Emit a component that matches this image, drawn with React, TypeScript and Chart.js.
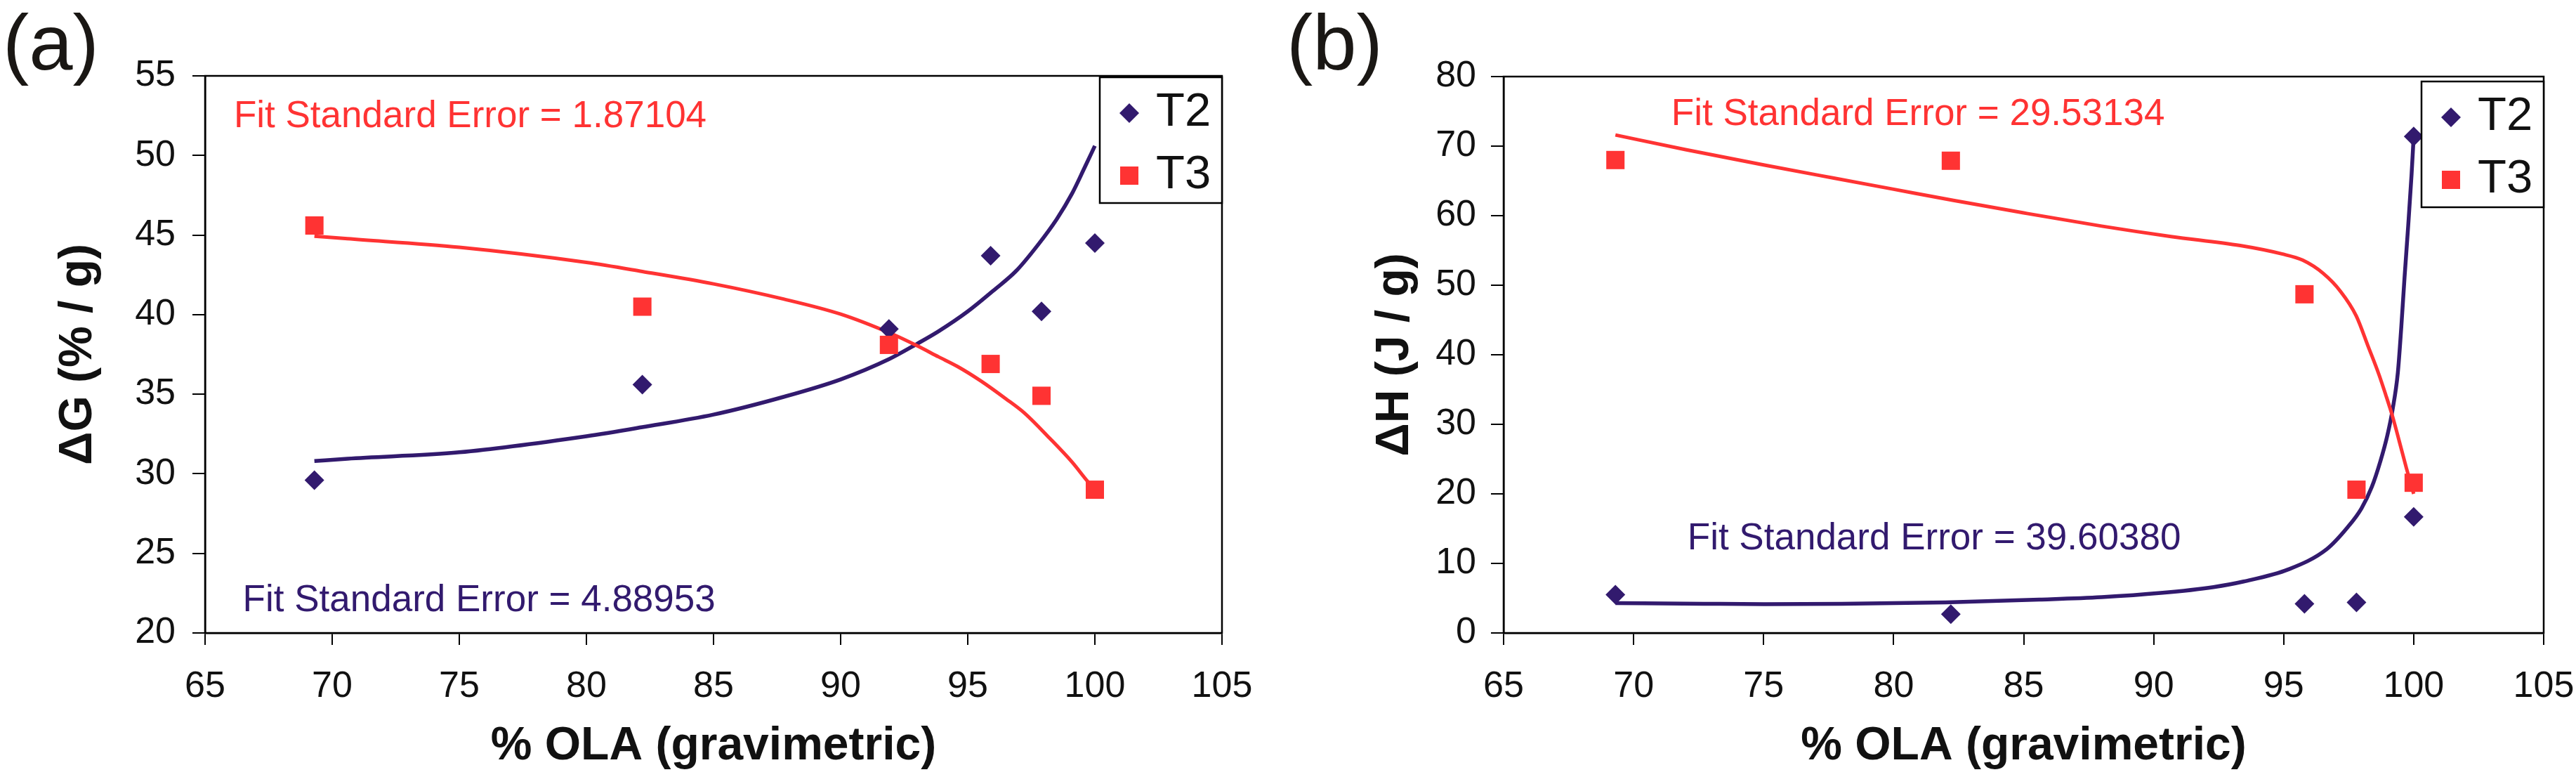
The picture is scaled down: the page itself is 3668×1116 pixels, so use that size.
import React, { useEffect, useRef } from 'react';
import { Chart, registerables } from 'chart.js';

Chart.register(...registerables);

const FONT = '"Liberation Sans", Arial, Helvetica, sans-serif';
const NAVY = '#321A6E';
const RED = '#FF3333';
const INK = '#111111';

// ---------- Panel (a): ΔG ----------
const A_T2_X = [69.3, 82.2, 91.9, 95.9, 97.9, 100.0];
const A_T2_Y = [29.6, 35.6, 39.1, 43.7, 40.2, 44.5];
const A_T3_X = [69.3, 82.2, 91.9, 95.9, 97.9, 100.0];
const A_T3_Y = [45.6, 40.5, 38.1, 36.9, 34.9, 29.0];
const A_FIT2_X = [69.3, 70.6, 75, 80, 82.2, 85, 87.75, 90, 91.9, 93, 93.85, 95, 96, 96.9, 97.75, 98.5, 99.1, 99.6, 100];
const A_FIT2_Y = [30.8, 30.95, 31.35, 32.36, 32.93, 33.72, 34.83, 35.93, 37.2, 38.16, 38.95, 40.2, 41.5, 42.74, 44.36, 46.0, 47.6, 49.25, 50.6];
const A_FIT3_X = [69.3, 70.6, 75, 80, 82.2, 85, 87.75, 90, 92, 93, 93.85, 94.6, 95.5, 96.5, 97.25, 98.2, 99.1, 99.7, 100];
const A_FIT3_Y = [44.93, 44.77, 44.23, 43.28, 42.71, 41.93, 40.98, 40.03, 38.8, 38.05, 37.35, 36.74, 35.85, 34.71, 33.79, 32.27, 30.74, 29.55, 29.0];
const A_Y_TITLE = 'ΔG (% / g)';
const A_FIT3_LABEL = 'Fit Standard Error = 1.87104';
const A_FIT2_LABEL = 'Fit Standard Error = 4.88953';

// ---------- Panel (b): ΔH ----------
const B_T2_X = [69.3, 82.2, 95.8, 97.8, 100.0, 100.0];
const B_T2_Y = [5.5, 2.7, 4.2, 4.4, 16.7, 71.4];
const B_T3_X = [69.3, 82.2, 95.8, 97.8, 100.0];
const B_T3_Y = [68.0, 67.9, 48.7, 20.6, 21.6];
const B_FIT2_X = [69.3, 72.7, 75, 78, 82, 85.6, 88, 90.27, 92.3, 93.46, 95.19, 96.66, 97.46, 97.99, 98.39, 98.72, 98.99, 99.19, 99.39, 99.52, 99.65, 99.79, 99.92, 100];
const B_FIT2_Y = [4.3, 4.2, 4.15, 4.2, 4.4, 4.8, 5.15, 5.75, 6.6, 7.4, 9.15, 12.06, 15.2, 17.9, 21.0, 24.7, 28.45, 32.15, 37.4, 43.8, 51.2, 58.6, 66.0, 71.4];
const B_FIT3_X = [69.3, 72, 75, 77.7, 80, 82.3, 85, 88, 90.67, 93.33, 94.93, 95.73, 96.52, 97.19, 97.79, 98.26, 98.66, 98.92, 99.19, 99.45, 99.72, 100];
const B_FIT3_Y = [71.6, 69.5, 67.3, 65.4, 63.8, 62.2, 60.4, 58.5, 57.0, 55.7, 54.5, 53.6, 51.7, 49.1, 45.6, 41.1, 37.2, 34.3, 31.1, 27.5, 23.7, 20.0];
const B_Y_TITLE = 'ΔH (J / g)';
const B_FIT3_LABEL = 'Fit Standard Error = 29.53134';
const B_FIT2_LABEL = 'Fit Standard Error = 39.60380';

// shared axis
const X_MIN = 65;
const X_MAX = 105;
const X_STEP = 5;
const X_TITLE = '% OLA (gravimetric)';
const SERIES = ['T2', 'T3'];

const H = 1116;

const zip = (xs: number[], ys: number[]) => xs.map((x, i) => ({ x, y: ys[i] }));

type Panel = {
  left: number; width: number;
  chartLeft: number; chartRight: number; chartTop: number; chartBottom: number;
  yMin: number; yMax: number; yStep: number; yTitle: string;
  yTitlePad: number; yTickPad: number;
  t2: { x: number; y: number }[]; t3: { x: number; y: number }[];
  fit2: { x: number; y: number }[]; fit3: { x: number; y: number }[];
  notes: { text: string; x: number; y: number; color: string }[];
  letter: string; letterX: number; legendDy: number;
};

const PANELS: Panel[] = [
  {
    left: 0, width: 1820,
    chartLeft: 292, chartRight: 1740, chartTop: 108, chartBottom: 901,
    yMin: 20, yMax: 55, yStep: 5, yTitle: A_Y_TITLE,
    yTitlePad: 72, yTickPad: 24,
    t2: zip(A_T2_X, A_T2_Y), t3: zip(A_T3_X, A_T3_Y),
    fit2: zip(A_FIT2_X, A_FIT2_Y), fit3: zip(A_FIT3_X, A_FIT3_Y),
    notes: [
      { text: A_FIT3_LABEL, x: 66.13, y: 51.8, color: RED },
      { text: A_FIT2_LABEL, x: 66.48, y: 21.37, color: NAVY },
    ],
    letter: '(a)', letterX: 4, legendDy: 2,
  },
  {
    left: 1820, width: 1848,
    chartLeft: 321, chartRight: 1802, chartTop: 109, chartBottom: 901,
    yMin: 0, yMax: 80, yStep: 10, yTitle: B_Y_TITLE,
    yTitlePad: 127, yTickPad: 21,
    t2: zip(B_T2_X, B_T2_Y), t3: zip(B_T3_X, B_T3_Y),
    fit2: zip(B_FIT2_X, B_FIT2_Y), fit3: zip(B_FIT3_X, B_FIT3_Y),
    notes: [
      { text: B_FIT3_LABEL, x: 71.45, y: 73.0, color: RED },
      { text: B_FIT2_LABEL, x: 72.07, y: 12.0, color: NAVY },
    ],
    letter: '(b)', letterX: 12, legendDy: 7,
  },
];

function drawDiamond(ctx: CanvasRenderingContext2D, x: number, y: number, r: number) {
  ctx.beginPath();
  ctx.moveTo(x - r, y);
  ctx.lineTo(x, y - r);
  ctx.lineTo(x + r, y);
  ctx.lineTo(x, y + r);
  ctx.closePath();
  ctx.fill();
}

function makeConfig(p: Panel): any {
  const decor = {
    id: 'decor' + p.letter,
    beforeDatasetsDraw(chart: any) {
      const { ctx, chartArea: a } = chart;
      ctx.save();
      ctx.strokeStyle = '#000';
      ctx.lineWidth = 2.5;
      ctx.strokeRect(a.left, a.top, a.right - a.left, a.bottom - a.top);
      ctx.restore();
    },
    afterDraw(chart: any) {
      const { ctx, chartArea: a } = chart;
      const xs = chart.scales.x;
      const ys = chart.scales.y;
      ctx.save();
      // fit annotations
      ctx.font = `53px ${FONT}`;
      ctx.textAlign = 'left';
      ctx.textBaseline = 'alphabetic';
      p.notes.forEach((n) => {
        ctx.fillStyle = n.color;
        ctx.fillText(n.text, xs.getPixelForValue(n.x), ys.getPixelForValue(n.y));
      });
      // panel letter
      ctx.font = `112px ${FONT}`;
      ctx.fillStyle = '#1A1714';
      ctx.fillText(p.letter, p.letterX, 99);
      // legend
      const lw = 174;
      const lh = 179;
      const lx = a.right - lw;
      const ly = a.top + p.legendDy;
      ctx.fillStyle = '#fff';
      ctx.fillRect(lx, ly, lw, lh);
      ctx.strokeStyle = '#000';
      ctx.lineWidth = 2.5;
      ctx.strokeRect(lx, ly, lw, lh);
      const rows = [ly + 51, ly + 140];
      ctx.fillStyle = NAVY;
      drawDiamond(ctx, lx + 42, rows[0], 14);
      ctx.fillStyle = RED;
      ctx.fillRect(lx + 42 - 13, rows[1] - 13, 26, 26);
      ctx.font = `67px ${FONT}`;
      ctx.fillStyle = INK;
      ctx.textBaseline = 'middle';
      SERIES.forEach((s, i) => ctx.fillText(s, lx + 80, rows[i]));
      ctx.restore();
    },
  };

  const zeroPad = (s: any) => {
    s.paddingLeft = 0; s.paddingRight = 0; s.paddingTop = 0; s.paddingBottom = 0;
  };

  return {
    type: 'scatter',
    data: {
      datasets: [
        {
          label: 'T2 fit', data: p.fit2, showLine: true, pointRadius: 0, pointHoverRadius: 0,
          borderColor: NAVY, borderWidth: 5.5, backgroundColor: NAVY, cubicInterpolationMode: 'monotone', order: 4,
        },
        {
          label: 'T3 fit', data: p.fit3, showLine: true, pointRadius: 0, pointHoverRadius: 0,
          borderColor: RED, borderWidth: 5, backgroundColor: RED, cubicInterpolationMode: 'monotone', order: 3,
        },
        {
          label: SERIES[0], data: p.t2, showLine: false, pointStyle: 'rectRot', pointRadius: 14,
          pointBorderWidth: 0, backgroundColor: NAVY, borderColor: NAVY, order: 2,
        },
        {
          label: SERIES[1], data: p.t3, showLine: false, pointStyle: 'rect', pointRadius: 18.4,
          pointBorderWidth: 0, backgroundColor: RED, borderColor: RED, order: 1,
        },
      ],
    },
    options: {
      animation: false,
      responsive: false,
      devicePixelRatio: 1,
      events: [],
      layout: { padding: { left: 0, top: p.chartTop, right: p.width - p.chartRight, bottom: 0 } },
      plugins: { legend: { display: false }, tooltip: { enabled: false }, title: { display: false } },
      scales: {
        x: {
          type: 'linear', position: 'bottom', min: X_MIN, max: X_MAX,
          ticks: {
            stepSize: X_STEP, autoSkip: false, maxRotation: 0, minRotation: 0,
            font: { family: FONT, size: 52 }, color: INK, padding: 28,
          },
          grid: { drawOnChartArea: false, drawTicks: true, tickLength: 17, color: '#000', lineWidth: 2 },
          border: { display: true, color: '#000', width: 2.5 },
          title: {
            display: true, text: X_TITLE, color: INK,
            font: { family: FONT, size: 66, weight: 'bold' }, padding: { top: 0, bottom: 14 },
          },
          afterFit: (s: any) => { s.height = H - p.chartBottom; zeroPad(s); },
        },
        y: {
          type: 'linear', position: 'left', min: p.yMin, max: p.yMax,
          ticks: {
            stepSize: p.yStep, autoSkip: false,
            font: { family: FONT, size: 52 }, color: INK, padding: p.yTickPad,
          },
          grid: { drawOnChartArea: false, drawTicks: true, tickLength: 18, color: '#000', lineWidth: 2 },
          border: { display: true, color: '#000', width: 2.5 },
          title: {
            display: true, text: p.yTitle, color: INK,
            font: { family: FONT, size: 66, weight: 'bold' }, padding: { top: p.yTitlePad, bottom: 0 },
          },
          afterFit: (s: any) => { s.width = p.chartLeft; zeroPad(s); },
        },
      },
    },
    plugins: [decor],
  };
}

function PanelChart({ p }: { p: Panel }) {
  const ref = useRef<HTMLCanvasElement | null>(null);
  useEffect(() => {
    if (!ref.current) return;
    const chart = new Chart(ref.current, makeConfig(p));
    return () => chart.destroy();
  }, [p]);
  return (
    <canvas
      ref={ref}
      width={p.width}
      height={H}
      style={{ position: 'absolute', left: p.left, top: 0, width: p.width, height: H, display: 'block' }}
    />
  );
}

export default function App() {
  return (
    <div style={{ position: 'absolute', left: 0, top: 0, width: 3668, height: H, background: '#fff', overflow: 'hidden' }}>
      {PANELS.map((p) => (
        <PanelChart key={p.letter} p={p} />
      ))}
    </div>
  );
}
